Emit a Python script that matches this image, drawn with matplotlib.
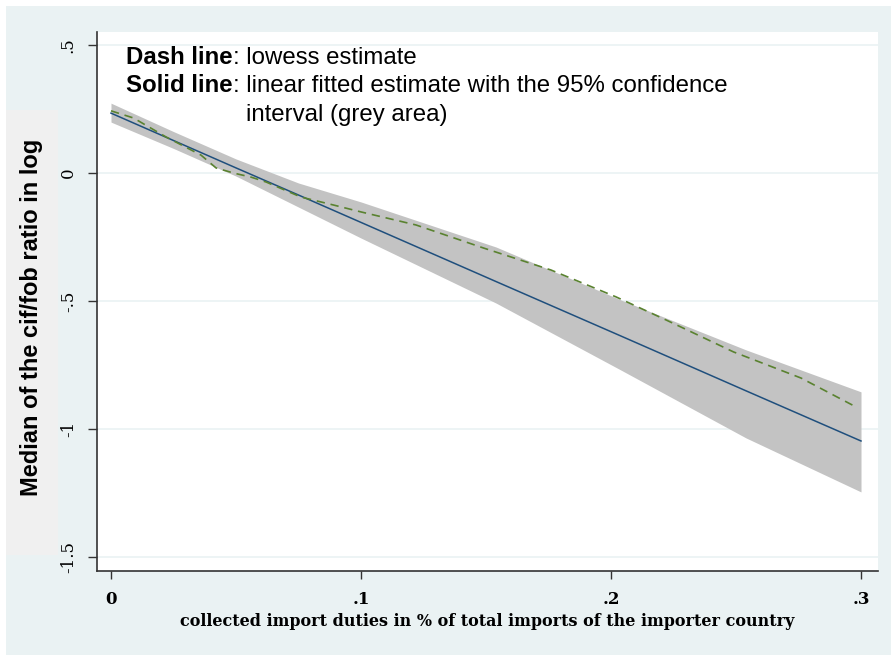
import matplotlib
matplotlib.use("Agg")
import matplotlib.pyplot as plt
from matplotlib.patches import Rectangle

# ---- data ----
ci_x = [0.0, 0.025, 0.05, 0.075, 0.1, 0.154, 0.204, 0.254, 0.3]
ci_upper = [0.273, 0.162, 0.055, -0.039, -0.113, -0.289, -0.496, -0.691, -0.855]
ci_lower = [0.199, 0.096, -0.012, -0.133, -0.254, -0.508, -0.770, -1.035, -1.246]
fit_y = [0.234, 0.127, 0.020, -0.086, -0.193, -0.424, -0.637, -0.851, -1.047]

lowess_x = [0.000, 0.009, 0.022, 0.036, 0.042, 0.049, 0.056, 0.062, 0.076, 0.089,
            0.100, 0.122, 0.149, 0.176, 0.202, 0.222, 0.249, 0.276, 0.298]
lowess_y = [0.243, 0.215, 0.141, 0.070, 0.020, 0.000, -0.016, -0.035, -0.094, -0.125,
            -0.152, -0.203, -0.293, -0.379, -0.484, -0.574, -0.699, -0.801, -0.914]

x_ticks = [0, 0.1, 0.2, 0.3]
x_tick_labels = ["0", ".1", ".2", ".3"]
y_ticks = [-1.5, -1, -0.5, 0, 0.5]
y_tick_labels = ["-1.5", "-1", "-.5", "0", ".5"]

x_label = "collected import duties in % of total imports of the importer country"
y_label = "Median of the cif/fob ratio in log"

W, H = 891, 655
fig = plt.figure(figsize=(W / 100, H / 100), dpi=100)
fig.patch.set_facecolor("white")

def fx(px):
    return px / W

def fy(py):
    return 1 - py / H

# outer Stata-like background
fig.patches.append(Rectangle((fx(6), 0), 1 - fx(6), fy(6), transform=fig.transFigure,
                             facecolor="#eaf2f3", edgecolor="none", zorder=-10))
# light grey box behind y-label
fig.patches.append(Rectangle((fx(6), fy(555)), fx(58) - fx(6), fy(110) - fy(555),
                             transform=fig.transFigure, facecolor="#f0f0f0",
                             edgecolor="none", zorder=-9))

ax = fig.add_axes([fx(97), fy(571), fx(878) - fx(97), fy(32) - fy(571)])
ax.set_facecolor("white")

ax.fill_between(ci_x, ci_lower, ci_upper, color="#c3c3c3", linewidth=0, zorder=2)
ax.plot(ci_x, fit_y, color="#1f4f7d", lw=1.1, zorder=3)
ax.plot(lowess_x, lowess_y, color="#5a8230", lw=1.2, dashes=(5, 3.5), zorder=4)

ax.set_xlim(-0.0056, 0.3068)
ax.set_ylim(-1.555, 0.551)

ax.set_yticks(y_ticks)
ax.set_yticklabels(y_tick_labels, rotation=90, va="center",
                   family="DejaVu Serif", fontsize=12)
ax.set_xticks(x_ticks)
ax.set_xticklabels(x_tick_labels, family="DejaVu Serif", fontsize=12, fontweight="bold")

ax.tick_params(axis="y", direction="out", length=6.5, width=1.0, color="#333333", pad=8)
ax.tick_params(axis="x", direction="out", length=5.5, width=1.0, color="#333333", pad=9)

ax.grid(axis="y", color="#eaf2f3", lw=1.2, zorder=0)
ax.set_axisbelow(True)

for s in ["top", "right"]:
    ax.spines[s].set_visible(False)
for s in ["left", "bottom"]:
    ax.spines[s].set_color("#333333")
    ax.spines[s].set_linewidth(1.2)

fig.text(fx(487.5), fy(621), x_label, ha="center", va="center",
         family="DejaVu Serif", fontsize=11.5, fontweight="bold")
fig.text(fx(32), fy(317), y_label, ha="center", va="center", rotation=90,
         family="Liberation Sans", fontsize=17, fontweight="bold")

# annotation
fs = 17.3
b1 = fig.text(fx(126), fy(63.5), "Dash line", family="Liberation Sans", fontweight="bold",
              fontsize=fs, va="baseline", ha="left")
ax.annotate(": lowess estimate", xy=(1, 0), xycoords=b1, va="bottom", ha="left",
            family="Liberation Sans", fontsize=fs)
b2 = fig.text(fx(126), fy(92.5), "Solid line", family="Liberation Sans", fontweight="bold",
              fontsize=fs, va="baseline", ha="left")
r2 = ax.annotate(": linear fitted estimate with the 95% confidence", xy=(1, 0), xycoords=b2,
                 va="bottom", ha="left", family="Liberation Sans", fontsize=fs)
ax.annotate("interval (grey area)", xy=(0, 0), xycoords=r2, xytext=(fs * 0.556, -20.2),
            textcoords="offset points", va="bottom", ha="left",
            family="Liberation Sans", fontsize=fs)

fig.savefig("out.png", dpi=100, facecolor=fig.get_facecolor())
